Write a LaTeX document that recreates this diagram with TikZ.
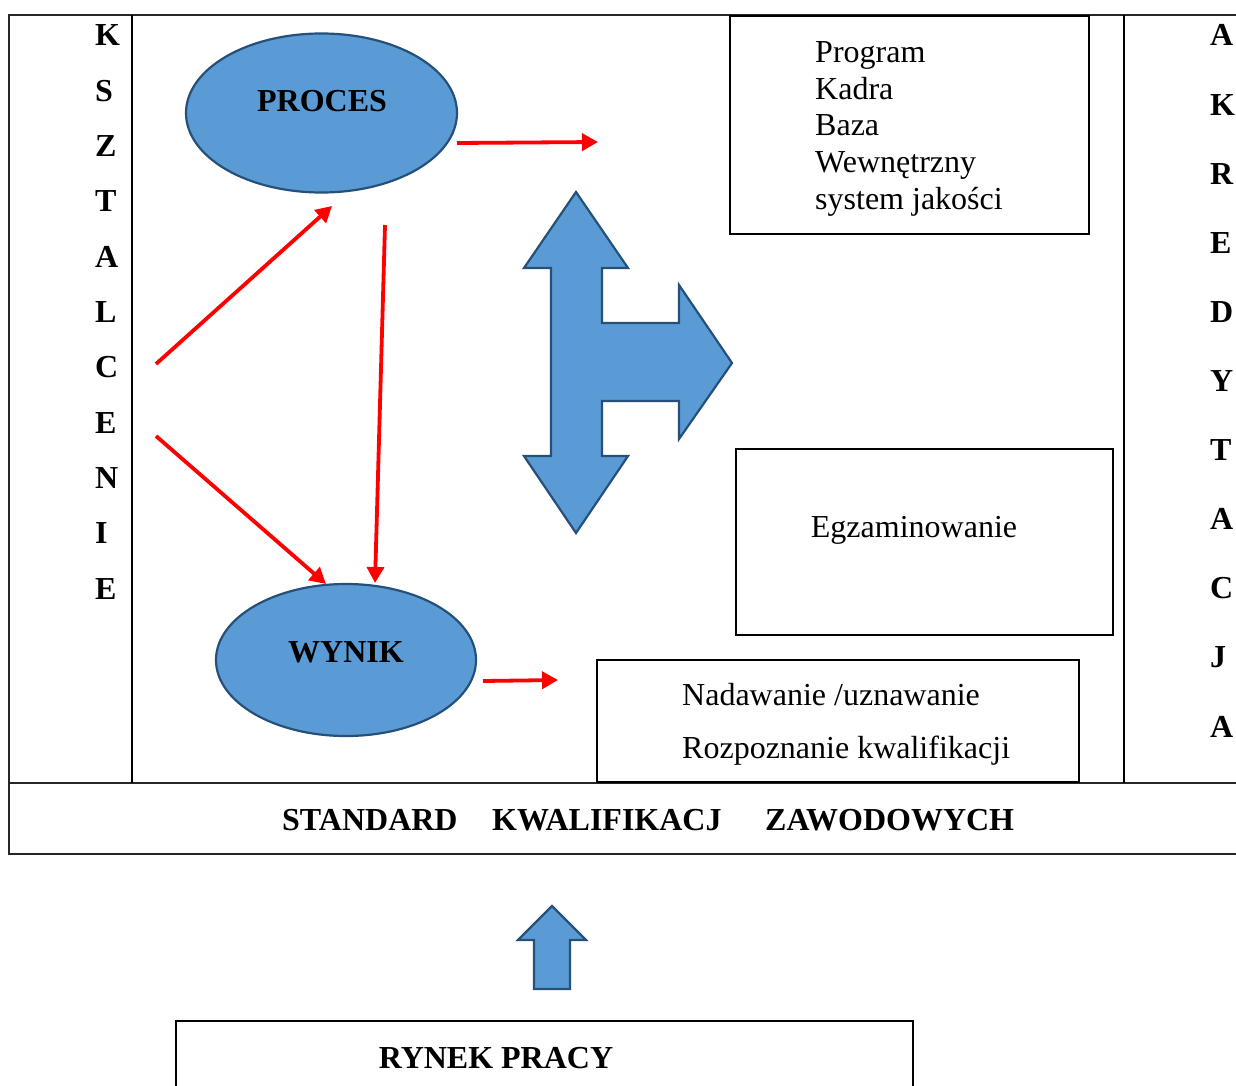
\documentclass[tikz,border=0pt]{standalone}
\usepackage{fontspec}
\setmainfont{Liberation Serif}
\usetikzlibrary{arrows.meta,shapes.geometric}
\definecolor{blobfill}{HTML}{5B9BD5}
\definecolor{blobline}{HTML}{24507A}
\begin{document}
\begin{tikzpicture}[x=1pt,y=-1pt,
  frame/.style={draw=black!85,line width=1.6pt},
  thinline/.style={draw=black,line width=1.1pt},
  box/.style={draw=black,line width=1.1pt,rectangle,inner sep=0pt},
  blob/.style={ellipse,draw=blobline,fill=blobfill,line width=2.2pt,inner sep=0pt},
  shapearrow/.style={draw=blobline,fill=blobfill,line width=2.2pt,line join=miter},
  redarrow/.style={draw=red,line width=3.8pt,-{Triangle[length=16pt,width=17pt]}},
  txt/.style={font=\fontsize{32}{37}\selectfont,inner sep=0pt},
  btxt/.style={font=\fontsize{32}{37}\selectfont\bfseries,inner sep=0pt}
]
\useasboundingbox (0,0) rectangle (1236,1086);

% outer frame
\draw[frame] (1236,15) -- (9,15) -- (9,854) -- (1236,854);
\draw[frame] (9,783) -- (1236,783);
\draw[thinline] (132,15) -- (132,783);
\draw[thinline] (1124,15) -- (1124,783);

% vertical words
\foreach \c [count=\i from 0] in {K,S,Z,T,A,L,C,E,N,I,E}
  \node[btxt,anchor=base west] (ks\i) at (95,{46+55.3*\i}) {\c};
\foreach \c [count=\i from 0] in {A,K,R,E,D,Y,T,A,C,J,A}
  \node[btxt,anchor=base west] (ak\i) at (1210,{46+69.1*\i}) {\c};

% ellipses
\node[blob,minimum width=271pt,minimum height=159pt] (proces) at (321.5,113) {};
\node[btxt,anchor=base] (procest) at (322,112) {PROCES};
\node[blob,minimum width=260pt,minimum height=152pt] (wynik) at (346,660) {};
\node[btxt,anchor=base] (wynikt) at (346,662) {WYNIK};

% boxes
\node[box,minimum width=359pt,minimum height=218pt] (zasoby) at (909.5,125) {};
\foreach \t [count=\i from 0] in {Program,Kadra,Baza,Wewnętrzny,system jakości}
  \node[txt,anchor=base west] (zl\i) at (815,{63+36.5*\i}) {\t};
\node[box,minimum width=377pt,minimum height=186pt] (egz) at (924.5,542) {};
\node[txt,anchor=base] (egzt) at (914,537) {Egzaminowanie};
\node[box,minimum width=482pt,minimum height=122pt] (nad) at (838,721) {};
\node[txt,anchor=base west] (nad1) at (682,705) {Nadawanie /uznawanie};
\node[txt,anchor=base west] (nad2) at (682,758) {Rozpoznanie kwalifikacji};

% standard
\node[btxt,anchor=base west] (s1) at (282,830) {STANDARD};
\node[btxt,anchor=base west] (s2) at (492,830) {KWALIFIKACJ};
\node[btxt,anchor=base west] (s3) at (765,830) {ZAWODOWYCH};

% rynek pracy
\node[box,minimum width=737pt,minimum height=80pt] (rynek) at (544.5,1061) {};
\node[btxt,anchor=base] (rynekt) at (496,1068) {RYNEK PRACY};

% big three-way arrow
\draw[shapearrow] (576,192) -- (628,268) -- (602,268) -- (602,323) -- (679,323)
  -- (679,285) -- (732,363) -- (679,439) -- (679,401) -- (602,401) -- (602,456)
  -- (628,456) -- (576,533) -- (524,456) -- (551,456) -- (551,268) -- (524,268) -- cycle;

% small up arrow
\draw[shapearrow] (552,906) -- (586,940) -- (570,940) -- (570,989) -- (534,989)
  -- (534,940) -- (518,940) -- cycle;

% red arrows
\coordinate (a1s) at (457,143); \coordinate (a1e) at (598,142);
\coordinate (a2s) at (156,364); \coordinate (a2e) at (332,206);
\coordinate (a3s) at (156,436); \coordinate (a3e) at (326,584);
\coordinate (a4s) at (385,225); \coordinate (a4e) at (375,583);
\coordinate (a5s) at (483,681); \coordinate (a5e) at (558,680);
\draw[redarrow] (a1s) -- (a1e);
\draw[redarrow] (a2s) -- (a2e);
\draw[redarrow] (a3s) -- (a3e);
\draw[redarrow] (a4s) -- (a4e);
\draw[redarrow] (a5s) -- (a5e);
\end{tikzpicture}
\end{document}
